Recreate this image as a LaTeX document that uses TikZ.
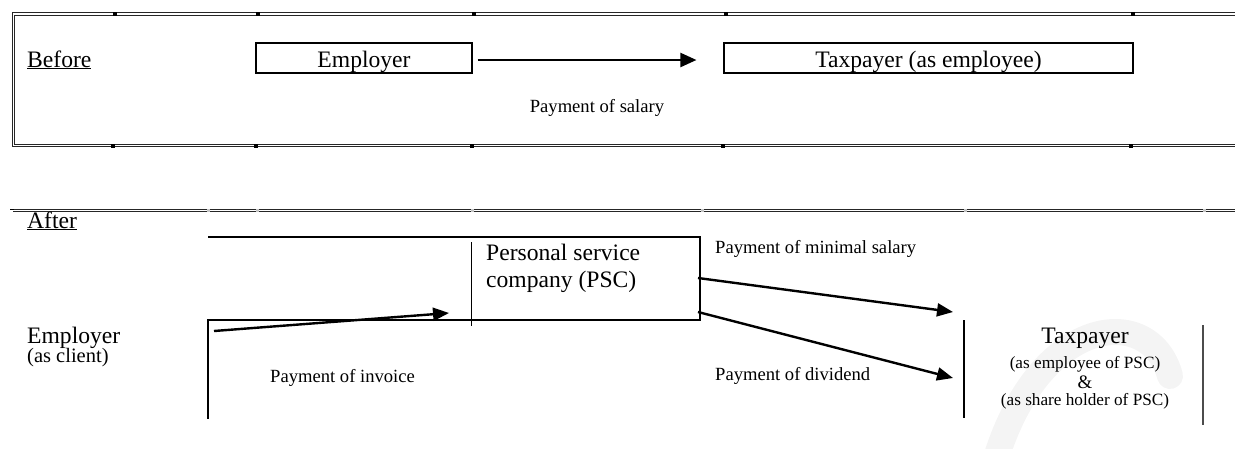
\documentclass[tikz,border=0pt]{standalone}
\usepackage{fontspec}
\setmainfont{Liberation Serif}
\usetikzlibrary{arrows.meta}
\begin{document}
\begin{tikzpicture}[x=1pt,y=-1pt,
  big/.style={font=\fontsize{23.6}{28}\selectfont, inner sep=0pt},
  lab/.style={font=\fontsize{18.6}{22}\selectfont, inner sep=0pt},
  sublab/.style={font=\fontsize{17.2}{20}\selectfont, inner sep=0pt},
  topbox/.style={draw=black, line width=1.1pt, minimum height=30pt, inner sep=0pt, text height=22pt, text depth=4pt, font=\fontsize{23.6}{28}\selectfont},
  dbl/.style={draw=black!85, line width=1pt, double=white, double distance=1.1pt},
  arr/.style={line width=2.4pt, -{Triangle[length=16pt,width=13pt]}},
  heavy/.style={line width=2.6pt}
]
\useasboundingbox (0,0) rectangle (1235,448);
% watermark
\draw[gray!9, line width=26pt, line cap=round] (990,480) .. controls (1030,315) and (1150,300) .. (1170,376);

% ---- Before frame ----
\draw[dbl] (1240,14) -- (13.2,14) -- (13.2,145.5) -- (1240,145.5);
\foreach \x in {115,258,474,726,1133} \fill (\x-1.7,12.3) rectangle (\x+1.7,15.7);
\foreach \x in {113,256,472,723,1131} \fill (\x-1.7,143.8) rectangle (\x+1.7,147.6);

\node[big, anchor=base west] (before) at (27,67) {\underline{Before}};
\node[topbox, minimum width=216pt] (emp) at (364,58) {Employer};
\node[topbox, minimum width=409pt] (tax) at (928.5,58) {Taxpayer (as employee)};
\draw[line width=2.2pt, -{Triangle[length=16pt,width=14pt]}] ([xshift=5pt,yshift=-2pt]emp.east) -- ([xshift=-27pt,yshift=-2pt]tax.west);
\node[lab, anchor=base] (sal) at (597,112) {Payment of salary};

% ---- After ----
\draw[dbl] (13,210.5) -- (1240,210.5);
\fill (10,208.5) rectangle (14,210);
\foreach \x in {208,257,472,702,965,1204} \fill[gray!45] (\x-1.5,209) rectangle (\x+1.5,212);
\node[big, anchor=base west] (after) at (27,228) {\underline{After}};

\coordinate (pA) at (208,419);
\coordinate (pB) at (208,320);
\coordinate (pC) at (700,320);
\coordinate (pD) at (700,237);
\coordinate (pE) at (208,237);
\draw[heavy] (pE) -- (pD) -- (pC) -- (pB) -- (pA);
\draw[line width=1pt] (471,242) -- (471,326);
\node[big, anchor=base west] (psc1) at (486,260) {Personal service};
\node[big, anchor=base west] (psc2) at (486,287) {company (PSC)};

\node[big, anchor=base west] (emp2) at (27,343) {Employer};
\node[font=\fontsize{20.5}{24}\selectfont, inner sep=0pt, anchor=base west] (client) at (27,362) {(as client)};

\draw[line width=2.2pt] (964,320) -- (964,418);
\draw[line width=1.6pt, black!70] (1203,325) -- (1203,425);
\node[big, anchor=base] (tp) at (1085,343) {Taxpayer};
\node[sublab, anchor=base] (tp1) at (1085,368) {(as employee of PSC)};
\node[font=\fontsize{19}{22}\selectfont, inner sep=0pt, anchor=base] (amp) at (1085,388) {\&};
\node[sublab, anchor=base] (tp2) at (1085,405) {(as share holder of PSC)};

\coordinate (i1) at (214,331);
\coordinate (i2) at (449,313);
\coordinate (s1) at (698,278);
\coordinate (s2) at (953,312);
\coordinate (d1) at (698,312);
\coordinate (d2) at (953,378);
\draw[arr] (i1) -- (i2);
\draw[arr] (s1) -- (s2);
\draw[arr] (d1) -- (d2);

\node[lab, anchor=base west] (lms) at (715,253) {Payment of minimal salary};
\node[lab, anchor=base west] (inv) at (270,382) {Payment of invoice};
\node[lab, anchor=base west] (div) at (715,380) {Payment of dividend};
\end{tikzpicture}
\end{document}
